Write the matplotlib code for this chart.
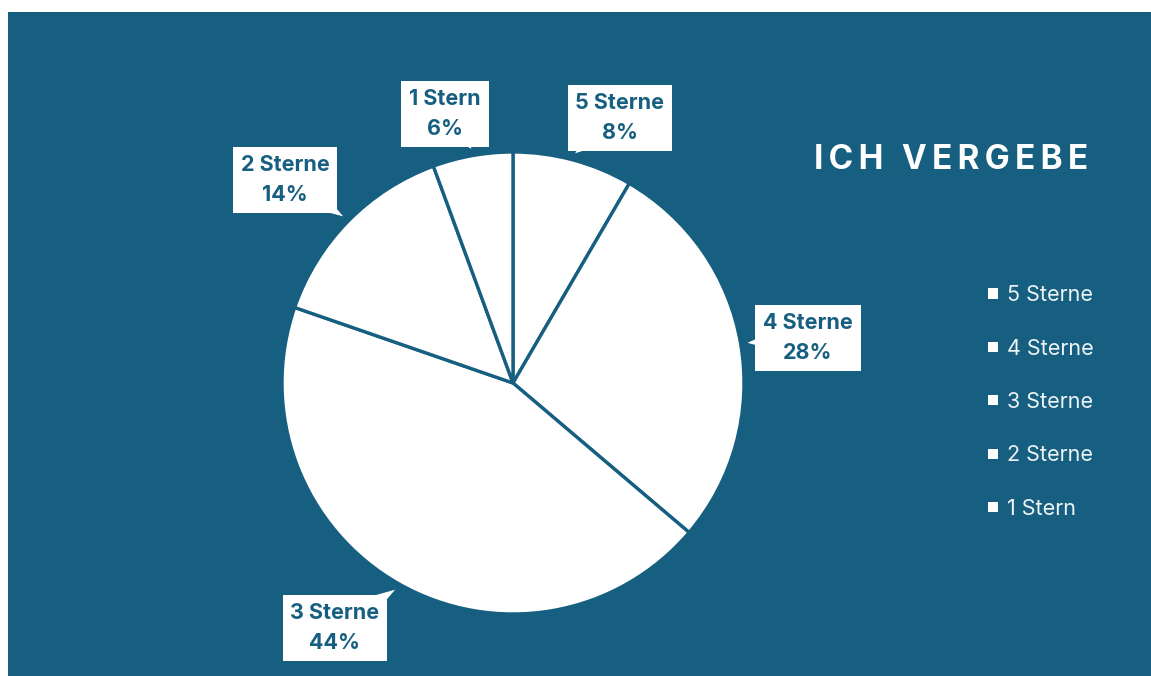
import numpy as np
import matplotlib.pyplot as plt

categories = ['5 Sterne', '4 Sterne', '3 Sterne', '2 Sterne', '1 Stern']
shares = [8.4, 27.8, 44.1, 14.1, 5.6]   # percent
title = 'ICH VERGEBE'

teal = '#175f80'
W, H = 1151, 676

plt.rcParams['font.family'] = ['Inter', 'DejaVu Sans']

fig = plt.figure(figsize=(W / 100, H / 100), dpi=100)
fig.patch.set_facecolor('white')
ax = fig.add_axes([0, 0, 1, 1])

# pie in pixel-like data units (1 unit = 1 px)
cx, cy, rad = 513, H - 383, 231
wedges, _ = ax.pie(shares, center=(cx, cy), radius=rad, startangle=90,
                   counterclock=False, colors=['white'] * len(shares),
                   wedgeprops=dict(edgecolor=teal, linewidth=2.4))
ax.set_xlim(0, W)
ax.set_ylim(0, H)
ax.set_aspect('auto')
ax.axis('off')
ax.add_patch(plt.Rectangle((8, 0), W - 8, H - 12, facecolor=teal,
                           edgecolor='none', zorder=0))

# callout boxes (centre of box, pixels from top-left)
box_pos = {'5 Sterne': (620, 118), '4 Sterne': (808, 338),
           '3 Sterne': (335, 628), '2 Sterne': (285, 180),
           '1 Stern': (445, 114)}
for w, name, val in zip(wedges, categories, shares):
    mid = np.deg2rad((w.theta1 + w.theta2) / 2)
    tip = (cx + rad * 1.03 * np.cos(mid), cy + rad * 1.03 * np.sin(mid))
    bx, by = box_pos[name]
    ax.annotate(f'{name}\n{val:.0f}%', xy=tip, xytext=(bx, H - by),
                ha='center', va='center', fontsize=15.5, fontweight='bold',
                color=teal, linespacing=1.6,
                bbox=dict(boxstyle='square,pad=0.36', fc='white', ec='none'),
                arrowprops=dict(arrowstyle='wedge,tail_width=2.0,shrink_factor=0.5',
                                fc='white', ec='none', patchA=None,
                                shrinkA=0, shrinkB=0))

# title with a bit of letter spacing
spaced = '\u2009'.join(title)
ax.text(951, H - 160, spaced, ha='center', va='center', fontsize=24,
        fontweight='bold', color='white')

leg = ax.legend(wedges, categories, loc='center left',
                bbox_to_anchor=(988 / W, 1 - 402 / H),
                bbox_transform=fig.transFigure, frameon=False, fontsize=15.5,
                labelcolor='#eef3f6', handlelength=0.45, handleheight=0.35,
                handletextpad=0.45, labelspacing=1.55, borderpad=0,
                borderaxespad=0)
for h in leg.legend_handles:
    h.set_edgecolor('none')
    h.set_facecolor('white')

fig.savefig('out.png', dpi=100)
